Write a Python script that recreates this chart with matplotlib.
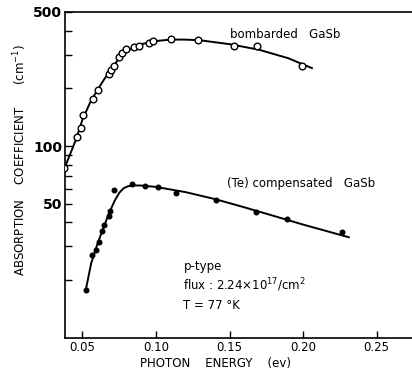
import matplotlib.pyplot as plt
from matplotlib.ticker import FixedLocator, NullFormatter

# bombarded GaSb (open circles)
bomb_x = [0.0376, 0.0462, 0.0491, 0.0507, 0.0575, 0.0605, 0.0679, 0.0695, 0.0715,
          0.0749, 0.0772, 0.0799, 0.0851, 0.0887, 0.0951, 0.0982, 0.1102, 0.1288,
          0.1532, 0.1688, 0.1990]
bomb_y = [77, 112, 124, 145, 177, 196, 239, 250, 263,
          291, 305, 320, 330, 334, 344, 354, 361, 358,
          334, 334, 260]
# hand-drawn curve through bombarded points
bomb_fit_x = [0.037, 0.042, 0.046, 0.050, 0.055, 0.060, 0.065, 0.070, 0.075, 0.080,
              0.090, 0.100, 0.110, 0.120, 0.130, 0.150, 0.170, 0.190, 0.206]
bomb_fit_y = [74, 92, 110, 137, 167, 195, 224, 255, 287, 312,
              340, 353, 359, 359, 356, 340, 318, 287, 255]

# (Te) compensated GaSb (filled dots)
comp_x = [0.0523, 0.0564, 0.0593, 0.0611, 0.0636, 0.0649, 0.0679, 0.0688, 0.0717,
          0.0835, 0.0928, 0.1016, 0.1136, 0.1408, 0.1677, 0.1892, 0.2263]
comp_y = [17.8, 27.1, 28.9, 31.5, 36.1, 38.8, 43.2, 45.8, 59.4,
          63.3, 61.6, 61.3, 57.3, 52.3, 45.3, 41.5, 35.6]
comp_fit_x = [0.0523, 0.056, 0.060, 0.064, 0.068, 0.072, 0.075, 0.078, 0.081, 0.085,
              0.090, 0.100, 0.120, 0.140, 0.160, 0.180, 0.200, 0.2311]
comp_fit_y = [17.8, 24.5, 30.5, 37.0, 44.5, 52.0, 57.0, 60.3, 61.8, 62.4,
              62.3, 61.3, 57.6, 53.0, 48.0, 43.3, 39.0, 33.5]

x_ticks = [0.05, 0.10, 0.15, 0.20, 0.25]
x_tick_labels = ['0.05', '0.10', '0.15', '0.20', '0.25']
y_major = [50, 100, 500]
y_minor = [20, 30, 40, 60, 70, 80, 90, 200, 300, 400]

fig = plt.figure(figsize=(4.12, 3.85), dpi=100)
ax = fig.add_axes([65/412, 1 - 338/385, (412 - 65)/412, (338 - 12)/385])

ax.plot(bomb_fit_x, bomb_fit_y, color='black', lw=1.4, zorder=2)
ax.plot(bomb_x, bomb_y, 'o', ms=4.8, mfc='white', mec='black', mew=1.0, zorder=3)
ax.plot(comp_fit_x, comp_fit_y, color='black', lw=1.4, zorder=2)
ax.plot(comp_x, comp_y, 'o', ms=3.3, color='black', zorder=3)

ax.set_yscale('log')
ax.set_xlim(0.0382, 0.274)
ax.set_ylim(10, 500)

ax.yaxis.set_major_locator(FixedLocator(y_major))
ax.yaxis.set_minor_locator(FixedLocator(y_minor))
ax.yaxis.set_minor_formatter(NullFormatter())
ax.set_yticklabels([str(v) for v in y_major], fontsize=10, fontweight='bold')
ax.set_xticks(x_ticks)
ax.set_xticklabels(x_tick_labels, fontsize=8.5)
ax.tick_params(axis='both', which='both', direction='in', length=5, width=1.0)
ax.tick_params(axis='y', pad=2)
ax.tick_params(axis='x', pad=2)

ax.spines['right'].set_visible(False)
for s in ['left', 'bottom', 'top']:
    ax.spines[s].set_linewidth(1.2)

ax.text(0.1505, 380, 'bombarded   GaSb', fontsize=8.5, va='center')
ax.text(0.1485, 63.5, '(Te) compensated   GaSb', fontsize=8.5, va='center')
ax.text(0.1187, 23.5, 'p-type', fontsize=8.5, va='center')
ax.text(0.1187, 18.8, 'flux : 2.24$\\times$10$^{17}$/cm$^{2}$', fontsize=8.5, va='center')
ax.text(0.1187, 14.8, 'T = 77 °K', fontsize=8.5, va='center')

fig.text(20/412, 1 - 160/385, 'ABSORPTION    COEFFICIENT      (cm$^{-1}$)',
         rotation=90, ha='center', va='center', fontsize=8.5)
fig.text(215/412, 1 - 363/385, 'PHOTON    ENERGY    (ev)',
         ha='center', va='center', fontsize=8.5)

fig.savefig('out.png', dpi=100)
